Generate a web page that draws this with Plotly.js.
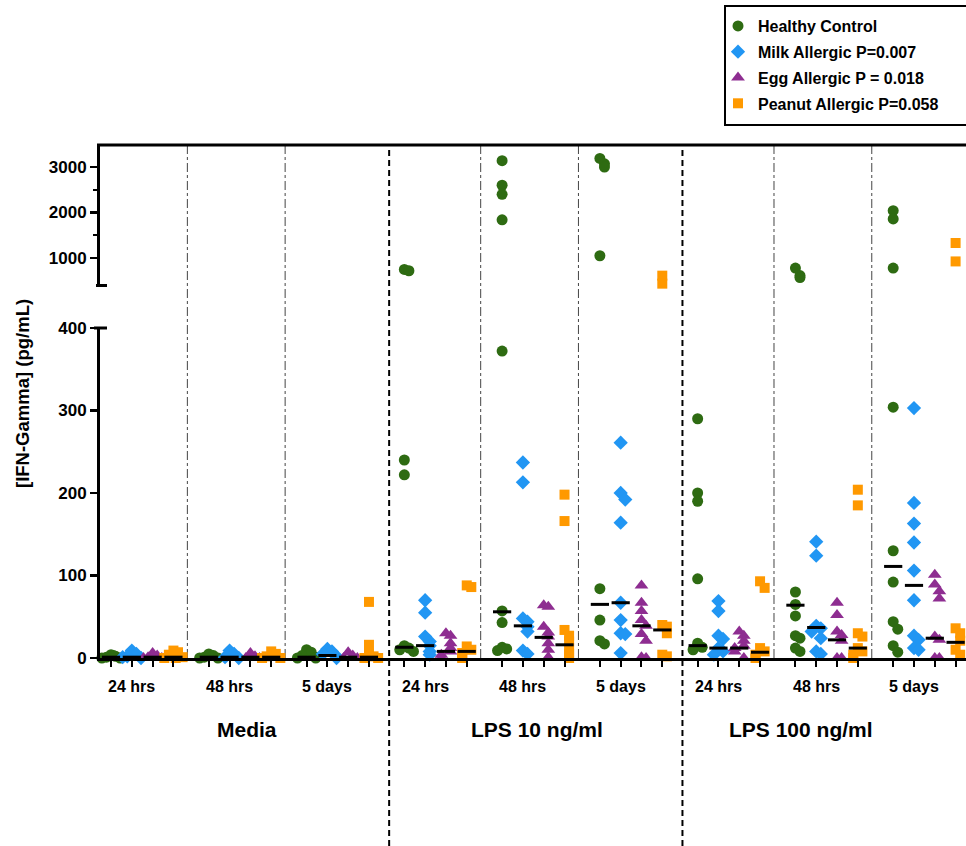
<!DOCTYPE html>
<html><head><meta charset="utf-8">
<script src="https://cdn.plot.ly/plotly-3.0.1.min.js"></script>
<style>html,body{margin:0;padding:0;background:#fff}#chart{width:966px;height:846px}</style>
</head><body><div id="chart"></div>
<script>
// ---------------- DATA ----------------
const timeLabels = ["24 hrs","48 hrs","5 days","24 hrs","48 hrs","5 days","24 hrs","48 hrs","5 days"];
const stimLabels = ["Media","LPS 10 ng/ml","LPS 100 ng/ml"];
const seriesNames = ["Healthy Control","Milk Allergic P=0.007","Egg Allergic P = 0.018","Peanut Allergic P=0.058"];

// one inner list per time group (Media 24h,48h,5d | LPS10 24h,48h,5d | LPS100 24h,48h,5d), pg/mL
const healthy = [
  [4, 2, 1, 0, 0, 3],
  [5, 3, 1, 0, 0],
  [10, 7, 3, 1, 0, 0],
  [750, 720, 240, 222, 15, 12, 10, 8],
  [3140, 2600, 2400, 1840, 372, 57, 43, 13, 11, 9],
  [3190, 3070, 3000, 1050, 84, 46, 21, 17],
  [290, 200, 190, 96, 18, 13, 10],
  [780, 615, 570, 80, 65, 51, 27, 24, 12, 8],
  [2040, 1860, 780, 304, 130, 92, 44, 35, 15, 7]
];
const milk = [
  [9, 5, 2, 0, 1],
  [9, 5, 1, 0],
  [11, 8, 5, 2, 0],
  [70, 55, 26, 20, 15, 8, 4],
  [237, 213, 48, 44, 38, 32, 9, 5],
  [261, 200, 192, 164, 67, 46, 30, 29, 6],
  [69, 57, 27, 23, 12, 8, 4],
  [141, 124, 39, 36, 32, 24, 8, 5],
  [303, 188, 163, 140, 106, 70, 27, 22, 12, 10]
];
const egg = [
  [6, 3, 1, 0, 0],
  [6, 2, 0, 0],
  [7, 3, 0, 0],
  [30, 27, 18, 12, 8, 4, 0],
  [64, 62, 38, 31, 26, 18, 10, 1, 0],
  [88, 67, 57, 46, 39, 29, 21, 1, 0],
  [32, 27, 21, 15, 12, 8, 0],
  [67, 52, 32, 28, 21, 0, 0],
  [101, 89, 81, 72, 26, 22, 0, 0]
];
const peanut = [
  [9, 7, 4, 1, 0, 0],
  [8, 5, 2, 0, 0],
  [68, 16, 5, 2, 0, 0],
  [88, 86, 14, 10, 6, 2, 0],
  [198, 166, 34, 27, 20, 12, 5, 0],
  [612, 436, 40, 38, 30, 4, 2],
  [93, 85, 12, 8, 4, 0],
  [204, 185, 30, 26, 12, 8, 4, 0],
  [1330, 925, 36, 30, 21, 10, 4]
];
// median bars per group
const healthyMedian = [1, 1, 1, 13, 56, 65, 15, 64, 111];
const milkMedian    = [1, 1, 3, 15, 39, 67, 12, 37, 88];
const eggMedian     = [1, 1, 1, 8, 25, 39, 12, 22, 24];
const peanutMedian  = [1, 1, 1, 8, 16, 34, 7, 12, 19];

// ---------------- STYLE / GEOMETRY ----------------
const W = 966, H = 846;
const STEP = 4.7;           // distance between time groups (in sub-position units)
const BREAK = 400;          // axis break value
const colors = ["#2E6B12", "#2196F3", "#8E2D91", "#FF9900"];
const symbols = ["circle", "diamond", "triangle-up", "square"];
const sizes = [11, 11, 12, 10];
const FONT = "Liberation Sans, Arial, Helvetica, sans-serif";
const px2x = p => (p - 100) / 866;   // pixel -> paper x
const py2y = p => 1 - p / H;         // pixel -> paper y

const seriesData = [healthy, milk, egg, peanut];
const seriesMed = [healthyMedian, milkMedian, eggMedian, peanutMedian];

// pixel scale (approx) of each axis segment, used only to spread overlapping points
const pxPerUnitLow = 330 / 400, pxPerUnitHigh = 141 / 3100;
const spread = [0, 0.22, -0.22, 0.44, -0.44, 0.11, -0.11];

const traces = [];
seriesData.forEach((groups, s) => {
  const lowX = [], lowY = [], highX = [], highY = [];
  groups.forEach((vals, g) => {
    const center = g * STEP + s;
    const placed = [];
    vals.forEach(v => {
      const high = v > BREAK;
      const pix = high ? (v - BREAK) * pxPerUnitHigh : v * pxPerUnitLow;
      let n = 0;
      placed.forEach(p => { if (p.high === high && Math.abs(p.pix - pix) < 8) n++; });
      placed.push({high, pix});
      const xx = center + spread[n % spread.length];
      if (high) { highX.push(xx); highY.push(v); } else { lowX.push(xx); lowY.push(v); }
    });
  });
  const mk = {symbol: symbols[s], size: sizes[s], color: colors[s], line: {width: 0}};
  traces.push({type: "scatter", mode: "markers", name: seriesNames[s], x: lowX, y: lowY,
    xaxis: "x", yaxis: "y", marker: mk, cliponaxis: false, legendgroup: "g" + s, showlegend: true});
  traces.push({type: "scatter", mode: "markers", name: seriesNames[s], x: highX, y: highY,
    xaxis: "x", yaxis: "y2", marker: mk, cliponaxis: false, legendgroup: "g" + s, showlegend: false});
});
// median bars
const medX = [], medY = [];
seriesMed.forEach((arr, s) => arr.forEach((m, g) => { medX.push(g * STEP + s); medY.push(m); }));
traces.push({type: "scatter", mode: "markers", x: medX, y: medY, xaxis: "x", yaxis: "y",
  marker: {symbol: "line-ew", size: 13, line: {width: 3, color: "#000"}}, showlegend: false, cliponaxis: false});

// tick positions on x
const tickPos = [];
for (let g = 0; g < 9; g++) for (let s = 0; s < 4; s++) tickPos.push(g * STEP + s);

// separators
const shapes = [];
const dottedAfter = [0, 1, 3, 4, 6, 7];
dottedAfter.forEach(g => shapes.push({type: "line", xref: "x", yref: "paper",
  x0: g * STEP + 3.67, x1: g * STEP + 3.67, y0: py2y(658), y1: py2y(145),
  line: {color: "#444", width: 1, dash: "dashdot"}, layer: "below"}));
[2, 5].forEach(g => shapes.push({type: "line", xref: "x", yref: "paper",
  x0: g * STEP + 3.97, x1: g * STEP + 3.97, y0: 0, y1: py2y(145),
  line: {color: "#000", width: 2, dash: "6px,4px"}, layer: "below"}));
// top frame line
shapes.push({type: "line", xref: "paper", yref: "paper", x0: px2x(97), x1: 1.01, y0: py2y(145), y1: py2y(145),
  line: {color: "#000", width: 3}});
// axis break caps
shapes.push({type: "line", xref: "paper", yref: "paper", x0: px2x(96), x1: px2x(107), y0: py2y(285.5), y1: py2y(285.5),
  line: {color: "#000", width: 3}});
shapes.push({type: "line", xref: "paper", yref: "paper", x0: px2x(94), x1: px2x(107), y0: py2y(328), y1: py2y(328),
  line: {color: "#000", width: 3}});
// legend frame
shapes.push({type: "rect", xref: "paper", yref: "paper", x0: px2x(725), x1: px2x(975), y0: py2y(125), y1: py2y(6),
  line: {color: "#000", width: 2}, fillcolor: "rgba(0,0,0,0)", layer: "above"});

// annotations
const annotations = [];
timeLabels.forEach((t, g) => annotations.push({text: t, xref: "x", yref: "paper", x: g * STEP + 1, y: py2y(686),
  showarrow: false, xanchor: "center", yanchor: "middle", font: {family: FONT, size: 16, color: "#000", weight: "bold"}}));
const stimPx = [247, 537, 801];
stimLabels.forEach((t, i) => annotations.push({text: t, xref: "paper", yref: "paper", x: px2x(stimPx[i]), y: py2y(729),
  showarrow: false, xanchor: "center", yanchor: "middle", font: {family: FONT, size: 21, color: "#000", weight: "bold"}}));
annotations.push({text: "[IFN-Gamma] (pg/mL)", xref: "paper", yref: "paper", x: px2x(22), y: py2y(394),
  textangle: -90, showarrow: false, xanchor: "center", yanchor: "middle",
  font: {family: FONT, size: 18.5, color: "#000", weight: "bold"}});

const tickFont = {family: FONT, size: 17, color: "#000", weight: "bold"};
const layout = {
  width: W, height: H,
  margin: {l: 100, r: 0, t: 0, b: 0, pad: 0},
  paper_bgcolor: "#fff", plot_bgcolor: "rgba(0,0,0,0)",
  font: {family: FONT, color: "#000"},
  showlegend: true,
  legend: {x: px2x(718), y: py2y(9), xanchor: "left", yanchor: "top",
    borderwidth: 0, bgcolor: "rgba(0,0,0,0)",
    font: {family: FONT, size: 16, color: "#000", weight: "bold"},
    traceorder: "grouped", tracegroupgap: 2},
  xaxis: {domain: [0, 1], range: [-0.53, 41.1], anchor: "y", showline: true, linewidth: 3, linecolor: "#000",
    ticks: "outside", ticklen: 6, tickwidth: 2, tickcolor: "#000", tickvals: tickPos, showticklabels: false,
    showgrid: false, zeroline: false, fixedrange: true},
  yaxis: {domain: [py2y(658), py2y(328)], range: [0, BREAK], anchor: "x", showline: true, linewidth: 3, linecolor: "#000",
    ticks: "outside", ticklen: 7, tickwidth: 2.5, tickcolor: "#000", tickvals: [0, 100, 200, 300, 400],
    tickfont: tickFont, showgrid: false, zeroline: false},
  yaxis2: {domain: [py2y(285.3), py2y(144.3)], range: [BREAK, 3500], anchor: "x", showline: true, linewidth: 3, linecolor: "#000",
    ticks: "outside", ticklen: 7, tickwidth: 2.5, tickcolor: "#000", tickvals: [1000, 2000, 3000],
    minor: {tickvals: [1500, 2500], ticks: "outside", ticklen: 4, tickwidth: 2, tickcolor: "#000"},
    tickfont: tickFont, showgrid: false, zeroline: false},
  shapes: shapes,
  annotations: annotations
};
Plotly.newPlot("chart", traces, layout, {displayModeBar: false, staticPlot: true});
</script>
</body></html>
